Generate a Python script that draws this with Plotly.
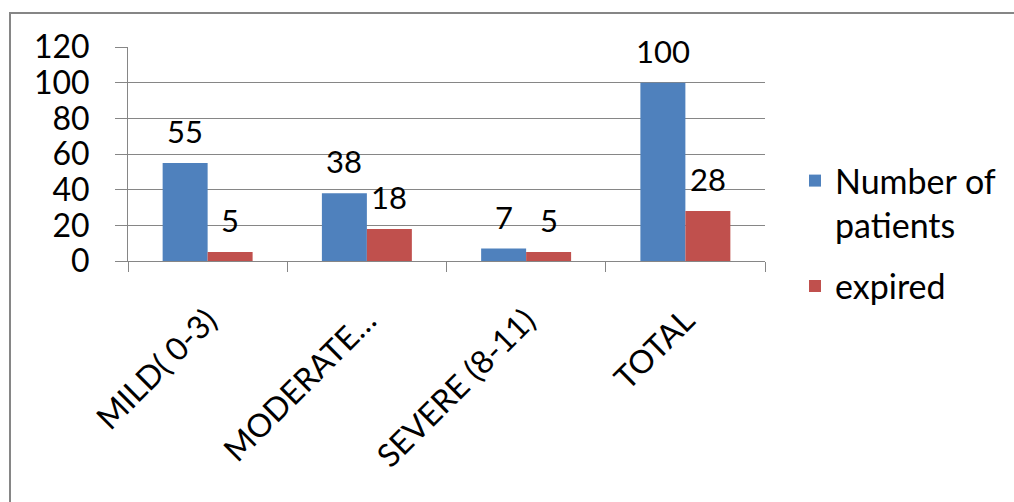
import plotly.graph_objects as go

categories = ["MILD( 0-3)", "MODERATE…", "SEVERE (8-11)", "TOTAL"]
patients = [55, 38, 7, 100]
expired = [5, 18, 5, 28]
series_names = ["Number of<br>patients", "expired"]
y_ticks = [0, 20, 40, 60, 80, 100, 120]

BLUE = "#4F81BD"
RED = "#C0504D"
GRID = "#868686"
FONT = "Lato, Calibri, sans-serif"
FS = 32

fig = go.Figure()
fig.add_trace(go.Bar(x=categories, y=patients, name=series_names[0], legendgroup="g1",
                     marker=dict(color=BLUE, line=dict(width=0))))
fig.add_trace(go.Bar(x=categories, y=expired, name=series_names[1], legendgroup="g2",
                     marker=dict(color=RED, line=dict(width=0))))

bar_px = 45
annotations = []
for i, vals in enumerate([patients, expired]):
    for c, v in zip(categories, vals):
        annotations.append(dict(x=c, y=v, text=str(v), showarrow=False,
                                xref="x", yref="y", xshift=(i - 0.5) * bar_px,
                                yshift=32, yanchor="middle",
                                font=dict(family=FONT, size=31, color="#000")))

L, R, T, B = 128, 765, 47, 261
W, H = 1014, 502
pw, ph = R - L, B - T

fig.update_layout(
    width=W, height=H,
    margin=dict(l=L, r=W - R, t=T, b=H - B, pad=0),
    paper_bgcolor="white", plot_bgcolor="white",
    barmode="group", bargap=0.435, bargroupgap=0,
    font=dict(family=FONT, size=FS, color="#000"),
    annotations=annotations,
    showlegend=True,
    legend=dict(x=(795 - L) / pw, xanchor="left", y=1 - (152 - T) / ph, yanchor="top",
                font=dict(family=FONT, size=34, color="#000"),
                valign="top", tracegroupgap=14, bgcolor="rgba(0,0,0,0)"),
    xaxis=dict(type="category", showline=True, linecolor=GRID, linewidth=1,
               ticks="outside", tickson="boundaries", ticklen=10, tickcolor=GRID,
               tickangle=-45, showgrid=False, ticklabelstandoff=27,
               tickfont=dict(family=FONT, size=FS)),
    yaxis=dict(range=[0, 120], tickvals=y_ticks, showline=True, linecolor=GRID, linewidth=1,
               ticks="outside", ticklen=12, tickcolor=GRID, showgrid=True, gridcolor=GRID,
               gridwidth=1, zeroline=False, ticklabelstandoff=19,
               tickfont=dict(family=FONT, size=FS)),
    shapes=[dict(type="rect", xref="paper", yref="paper",
                 x0=(10 - L) / pw, x1=(W + 20 - L) / pw,
                 y0=1 - (H + 20 - T) / ph, y1=1 + (T - 13) / ph,
                 line=dict(color=GRID, width=2), fillcolor="rgba(0,0,0,0)", layer="below")],
)

fig.write_html("out.html")
